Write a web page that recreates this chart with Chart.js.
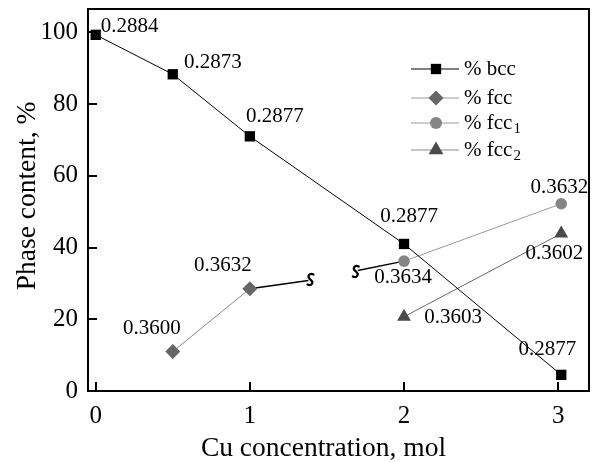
<!DOCTYPE html>
<html>
<head>
<meta charset="utf-8">
<script src="https://cdn.jsdelivr.net/npm/chart.js@4.4.1/dist/chart.umd.min.js"></script>
<style>
html,body{margin:0;padding:0;background:#fff;}
#wrap{width:597px;height:462px;position:relative;}
</style>
</head>
<body>
<div id="wrap"><canvas id="c" width="597" height="462"></canvas></div>
<script>
// ---- data ----
const bccX = [0, 0.5, 1, 2, 3.02];
const bccY = [99.3, 88.3, 71, 41, 4.5];
const bccLabels = ["0.2884", "0.2873", "0.2877", "0.2877", "0.2877"];

const fccX = [0.5, 1];
const fccY = [11, 28.5];
const fccLabels = ["0.3600", "0.3632"];

const fcc1X = [2, 3.02];
const fcc1Y = [36.2, 52.2];
const fcc1Labels = ["0.3634", "0.3632"];

const fcc2X = [2, 3.02];
const fcc2Y = [20.7, 43.9];
const fcc2Labels = ["0.3603", "0.3602"];

// broken connector between fcc and fcc1 (null = break)
const linkX = [1, 1.38, 1.54, 1.70, 2];
const linkY = [28.5, 30.8, null, 33.6, 36.2];

const xTicks = [0, 1, 2, 3];
const yTicks = [0, 20, 40, 60, 80, 100];

const seriesNames = ["% bcc", "% fcc", "% fcc", "% fcc"];
const seriesSubs = ["", "", "1", "2"];

// ---- styling (label offsets in px) ----
const labelOffsets = [
  [[34,-8],[40,-12],[25,-20],[5,-27],[-14,-25]],
  [[-21,-23],[-27,-23]],
  [[-1,16],[-2,-16]],
  [[49,1],[-7,20]]
];
const allLabels = [bccLabels, fccLabels, fcc1Labels, fcc2Labels];

const SERIF = "'Liberation Serif', 'DejaVu Serif', serif";
const pts = (xs, ys) => xs.map((x, i) => ({x: x, y: ys[i]}));

const datasets = [
  {label: "% bcc", data: pts(bccX, bccY), borderColor: "#000", backgroundColor: "#000",
   borderWidth: 1, pointStyle: "rect", pointRadius: 7.3, pointBorderWidth: 0, legendLine: "#000", legendR: 7.3},
  {label: "% fcc", data: pts(fccX, fccY), borderColor: "#8a8a8a", backgroundColor: "#666",
   borderWidth: 1, pointStyle: "rectRot", pointRadius: 7.5, pointBorderWidth: 0, legendLine: "#9a9a9a", legendR: 7.5},
  {label: "% fcc1", data: pts(fcc1X, fcc1Y), borderColor: "#9a9a9a", backgroundColor: "#858585",
   borderWidth: 1, pointStyle: "circle", pointRadius: 5.8, pointBorderWidth: 0, legendLine: "#9a9a9a", legendR: 6},
  {label: "% fcc2", data: pts(fcc2X, fcc2Y), borderColor: "#666", backgroundColor: "#4a4a4a",
   borderWidth: 1, pointStyle: "triangle", pointRadius: 8, pointBorderWidth: 0, legendLine: "#8a8a8a", legendR: 8.5},
  {label: "link", data: pts(linkX, linkY), borderColor: "#000", backgroundColor: "#000",
   borderWidth: 1.4, pointRadius: 0, spanGaps: false, isLink: true}
];

const framePlugin = {
  id: "frame",
  afterDraw(chart) {
    const ctx = chart.ctx, a = chart.chartArea;
    const xs = chart.scales.x, ys = chart.scales.y;
    ctx.save();
    ctx.strokeStyle = "#000";
    ctx.lineWidth = 2;
    ctx.strokeRect(a.left, a.top, a.right - a.left, a.bottom - a.top);
    ctx.beginPath();
    xTicks.forEach(v => { const p = Math.round(xs.getPixelForValue(v)); ctx.moveTo(p, a.bottom); ctx.lineTo(p, a.bottom - 9); });
    yTicks.forEach(v => { const p = Math.round(ys.getPixelForValue(v)); ctx.moveTo(a.left, p); ctx.lineTo(a.left + 9, p); });
    ctx.stroke();

    // axis titles
    ctx.fillStyle = "#000";
    ctx.font = "27.5px " + SERIF;
    ctx.textAlign = "center";
    ctx.textBaseline = "alphabetic";
    ctx.fillText("Cu concentration, mol", a.left + (a.right - a.left) * 0.47, 456);
    ctx.save();
    ctx.translate(35, 196);
    ctx.rotate(-Math.PI / 2);
    ctx.fillText("Phase content, %", 0, 0);
    ctx.restore();

    // break symbols on the connector
    const linkMeta = chart.getDatasetMeta(4);
    const drawS = (x, y) => {
      ctx.save();
      ctx.translate(x, y);
      ctx.lineWidth = 2.2;
      ctx.lineCap = "round";
      ctx.beginPath();
      ctx.moveTo(3, -5);
      ctx.bezierCurveTo(-1, -7, -4, -3, 0, 0);
      ctx.bezierCurveTo(4, 3, 1, 7, -3, 5);
      ctx.stroke();
      ctx.restore();
    };
    const p1 = linkMeta.data[1], p3 = linkMeta.data[3];
    drawS(p1.x + 2, p1.y - 1);
    drawS(p3.x - 2, p3.y + 1);

    // data labels
    ctx.font = "21px " + SERIF;
    ctx.textBaseline = "middle";
    ctx.textAlign = "center";
    allLabels.forEach((labs, di) => {
      const meta = chart.getDatasetMeta(di);
      labs.forEach((t, i) => {
        const el = meta.data[i];
        const o = labelOffsets[di][i];
        ctx.fillText(t, el.x + o[0], el.y + o[1]);
      });
    });

    // legend
    const lx = a.right - 178, rows = [69, 98, 123, 150];
    datasets.slice(0, 4).forEach((ds, i) => {
      const y = rows[i];
      ctx.strokeStyle = ds.legendLine;
      ctx.lineWidth = 1.2;
      ctx.beginPath(); ctx.moveTo(lx, y); ctx.lineTo(lx + 48, y); ctx.stroke();
      ctx.fillStyle = ds.backgroundColor;
      Chart.helpers.drawPoint(ctx, {pointStyle: ds.pointStyle, radius: ds.legendR, borderWidth: 0, rotation: 0}, lx + 25, y);
      ctx.fillStyle = "#000";
      ctx.font = "21px " + SERIF;
      ctx.textAlign = "left";
      ctx.textBaseline = "middle";
      ctx.fillText(seriesNames[i], lx + 53, y);
      if (seriesSubs[i]) {
        const w = ctx.measureText(seriesNames[i]).width;
        ctx.font = "15px " + SERIF;
        ctx.fillText(seriesSubs[i], lx + 54 + w, y + 6);
      }
    });
    ctx.restore();
  }
};

new Chart(document.getElementById("c"), {
  type: "scatter",
  data: {datasets: datasets.map(d => Object.assign({showLine: true, fill: false}, d))},
  options: {
    responsive: false,
    animation: false,
    layout: {padding: {left: 0, right: 4, top: 9, bottom: 0}},
    plugins: {legend: {display: false}, tooltip: {enabled: false}},
    scales: {
      x: {
        type: "linear", min: -0.05, max: 3.2,
        afterBuildTicks: s => { s.ticks = xTicks.map(v => ({value: v})); },
        afterFit: s => { s.height = 71; s.paddingLeft = 0; s.paddingRight = 0; s.paddingTop = 0; s.paddingBottom = 0; },
        grid: {display: false, drawTicks: false}, border: {display: false},
        ticks: {font: {family: SERIF, size: 25}, color: "#000", padding: 10}
      },
      y: {
        type: "linear", min: 0, max: 106.5,
        afterBuildTicks: s => { s.ticks = yTicks.map(v => ({value: v})); },
        afterFit: s => { s.width = 88; s.paddingLeft = 0; s.paddingRight = 0; s.paddingTop = 0; s.paddingBottom = 0; },
        grid: {display: false, drawTicks: false}, border: {display: false},
        ticks: {font: {family: SERIF, size: 25}, color: "#000", padding: 10}
      }
    }
  },
  plugins: [framePlugin]
});
</script>
</body>
</html>
